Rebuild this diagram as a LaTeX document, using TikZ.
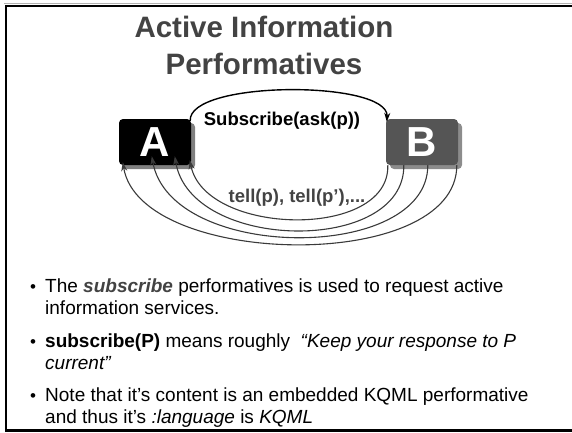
\documentclass[tikz,border=0pt]{standalone}
\usepackage{fontspec}
\setmainfont{Liberation Sans}
\usetikzlibrary{arrows.meta,shadows,calc}
\definecolor{titlegrey}{HTML}{434343}
\definecolor{boxB}{HTML}{555555}
\definecolor{arcgrey}{HTML}{3A3A3A}
\begin{document}
\begin{tikzpicture}[x=1pt,y=-1pt,
  agent/.style={rectangle,rounded corners=4pt,minimum width=72pt,minimum height=46pt,inner sep=0pt,
     text=white,font=\fontsize{42}{42}\selectfont\bfseries},
  titletext/.style={font=\fontsize{29.5}{36}\selectfont\bfseries,text=titlegrey,align=center},
  msg/.style={font=\fontsize{18.5}{20}\selectfont\bfseries,inner sep=0pt},
  reply/.style={draw=arcgrey,line width=1.1pt,-{Stealth[length=9pt,width=6pt]}},
  bline/.style={anchor=base west,inner sep=0pt,font=\fontsize{19}{23}\selectfont},
  dot/.style={anchor=base,inner sep=0pt,font=\fontsize{17}{23}\selectfont}]
\useasboundingbox (0,0) rectangle (572,433);
% frame
\draw[black!30,line width=1pt] (4,3.8) -- (572,3.8);
\draw[line width=2.4pt] (572,6) -- (6,6) -- (6,430.5) -- (572,430.5);
% title
\node[titletext,anchor=base] (t1) at (264,38) {Active Information};
\node[titletext,anchor=base] (t2) at (264,75) {Performatives};
% agents
\node[agent,fill=black,drop shadow={shadow xshift=4pt,shadow yshift=-4pt,fill=black!50,opacity=1}] (A) at (155,142) {A};
\node[agent,fill=boxB,drop shadow={shadow xshift=4pt,shadow yshift=-4pt,fill=black!45,opacity=1}] (B) at (422,142) {B};
% subscribe arc
\draw[line width=1.4pt,-{Stealth[length=9pt,width=6pt]}] ([xshift=-1pt,yshift=-2pt]A.north east) .. controls (188,80) and (389,80) .. ([xshift=1pt,yshift=-3pt]B.north west);
\node[msg] (sub) at (282,121) {Subscribe(ask(p))};
% reply arcs
\draw[reply] ([xshift=2pt]B.south west) .. controls (390,240) and (205,236) .. ([xshift=71pt,yshift=5pt]A.south west);
\draw[reply] ([xshift=18pt]B.south west) .. controls (405,255) and (190,252) .. ([xshift=56pt,yshift=9pt]A.south west);
\draw[reply] ([xshift=42pt]B.south west) .. controls (428,263) and (170,262) .. ([xshift=33pt,yshift=9pt]A.south west);
\draw[reply] ([xshift=71pt]B.south west) .. controls (457,274) and (140,268) .. ([xshift=4pt,yshift=3pt]A.south west);
\node[msg,text=titlegrey] (tell) at (297,198) {tell(p), tell(p’),...};
% bullets
\node[dot] (d1) at (33,292) {•};
\node[bline] (b1a) at (45,292) {The \textcolor{titlegrey}{\textbf{\textit{subscribe}}} performatives is used to request active};
\node[bline] (b1b) at (45,314) {information services.};
\node[dot] (d2) at (33,347) {•};
\node[bline] (b2a) at (45,347) {\textbf{subscribe(P)} means roughly \ \textit{“Keep your response to P}};
\node[bline] (b2b) at (45,369) {\textit{current”}};
\node[dot] (d3) at (33,401) {•};
\node[bline] (b3a) at (45,401) {Note that it’s content is an embedded KQML performative};
\node[bline] (b3b) at (45,423) {and thus it’s \textit{:language} is \textit{KQML}};
\end{tikzpicture}
\end{document}
